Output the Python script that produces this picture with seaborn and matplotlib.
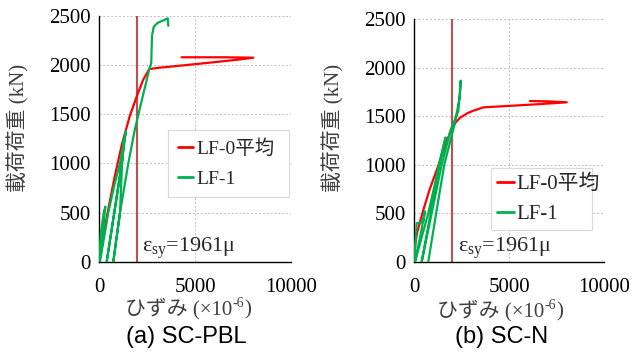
import numpy as np
import pandas as pd
import matplotlib
matplotlib.use("Agg")
import matplotlib.pyplot as plt
import seaborn as sns

# ---------------- data ----------------
a_red_strain = [0, 150, 450, 800, 1200, 1600, 2000, 2300, 2620, 3200, 4500, 6000, 7200, 8040, 6500, 4300]
a_red_load = [0, 180, 500, 850, 1200, 1480, 1700, 1850, 1961, 1975, 2000, 2030, 2055, 2076, 2080, 2080]

a_green_strain = [0, 100, 250, 330, 250, 52, 484, 800, 1094, 1400, 1189, 795, 400, 797, 1189, 1300,
                  1200, 1094, 745, 1094, 1526, 1850, 2200, 2450, 2620, 2720, 2760, 2850, 3050, 3350, 3580, 3610]
a_green_load = [0, 300, 500, 560, 400, 0, 500, 780, 1000, 1330, 1000, 500, 0, 500, 1000, 1250,
                1000, 500, 0, 500, 1000, 1330, 1620, 1820, 1961, 2020, 2300, 2390, 2430, 2455, 2476, 2400]

b_red_strain = [0, 50, 150, 474, 800, 1179, 1600, 1968, 2200, 2405, 2800, 3105, 3632, 5000, 6500, 8020, 7000, 6090]
b_red_load = [0, 180, 300, 532, 740, 944, 1180, 1374, 1440, 1483, 1530, 1555, 1590, 1605, 1622, 1642, 1652, 1655]

b_green_strain = [0, 60, 126, 474, 560, 300, 37, 737, 1316, 1650, 1300, 860, 389, 916, 1442, 1900,
                  2316, 2442, 2400, 2100, 1579, 1150, 737]
b_green_load = [0, 200, 395, 412, 520, 250, 0, 500, 1000, 1280, 1000, 500, 0, 500, 1000, 1350,
                1550, 1865, 1700, 1400, 1000, 500, 0]

series_names = ["LF-0平均", "LF-1"]
panel_titles = ["(a) SC-PBL", "(b) SC-N"]
eps_sy = 1961
x_ticks = [0, 5000, 10000]
y_ticks = [0, 500, 1000, 1500, 2000, 2500]

# ---------------- style ----------------
sns.set_style("white")
plt.rcParams["font.family"] = ["Liberation Serif", "Noto Sans CJK JP", "DejaVu Sans"]

palette = {series_names[0]: "#FF0000", series_names[1]: "#00B050"}
serif_cjk = ["Liberation Serif", "Noto Sans CJK JP", "DejaVu Sans"]
label_color = "#404040"

def frame(strain_a, load_a, strain_b, load_b):
    d1 = pd.DataFrame({"strain": strain_a, "load": load_a, "series": series_names[0]})
    d2 = pd.DataFrame({"strain": strain_b, "load": load_b, "series": series_names[1]})
    return pd.concat([d1, d2], ignore_index=True)

data = [frame(a_red_strain, a_red_load, a_green_strain, a_green_load),
        frame(b_red_strain, b_red_load, b_green_strain, b_green_load)]

fig = plt.figure(figsize=(6.35, 3.52), dpi=100)
W, H = 635, 352
renderer = fig.canvas.get_renderer()


def compose(cx, baseline, parts, color):
    """Draw text parts side by side, centred at cx (pixels)."""
    objs = []
    total = 0.0
    for s, size, dy in parts:
        t = fig.text(0, 0, s, fontsize=size, family=serif_cjk, color=color,
                     ha="left", va="baseline")
        w = t.get_window_extent(renderer).width
        objs.append((t, w, dy))
        total += w
    x = cx - total / 2
    for t, w, dy in objs:
        t.set_position((x / W, 1 - (baseline - dy) / H))
        x += w


axes_px = [(99, 16, 291, 261.7), (414.3, 19, 604.3, 261.7)]
legend_px = [(168, 130, 289, 202), (490.7, 168.3, 592.3, 230.7)]
legend_fs = [14, 15]
legend_pad = [0.5, 0.3]
legend_space = [0.6, 0.5]
xlabel_xy = [(188, 314), (500, 316)]
ylabel_xy = [(18, 128), (333, 128)]
title_xy = [(186, 337), (502, 337)]
eps_x = [142.3, 457.7]

for i in range(2):
    x0, y0, x1, y1 = axes_px[i]
    ax = fig.add_axes([x0 / W, 1 - y1 / H, (x1 - x0) / W, (y1 - y0) / H])
    ax.axvline(eps_sy, color="#C0504D", lw=1.5, zorder=1)
    sns.lineplot(data=data[i], x="strain", y="load", hue="series", palette=palette,
                 sort=False, estimator=None, lw=1.6, ax=ax, zorder=3)
    ax.set_xlim(0, 10000)
    ax.set_ylim(0, 2500)
    ax.set_xticks(x_ticks)
    ax.set_yticks(y_ticks)
    ax.grid(True, color="#BFBFBF", ls=(0, (2, 2)), lw=0.7)
    for s in ["top", "right"]:
        ax.spines[s].set_visible(False)
    for s in ["left", "bottom"]:
        ax.spines[s].set_color("black")
        ax.spines[s].set_linewidth(1.0)
    ax.tick_params(axis="both", length=0, labelsize=15, colors="black")
    ax.tick_params(axis="x", pad=12)
    ax.tick_params(axis="y", pad=6)
    for lab in ax.get_xticklabels() + ax.get_yticklabels():
        lab.set_family("Liberation Serif")
    ax.set_xlabel("")
    ax.set_ylabel("")

    # yield strain annotation
    ax.text((eps_x[i] - x0) / (x1 - x0), (y1 - 252.3) / (y1 - y0),
            r"$\mathregular{ε_{sy}}$=1961μ", transform=ax.transAxes,
            fontsize=16, family="Liberation Serif", va="baseline", ha="left", zorder=4)

    # legend
    lx0, ly0, lx1, ly1 = legend_px[i]
    handles, labels = ax.get_legend_handles_labels()
    leg = ax.legend(handles, labels, loc="upper left",
                    bbox_to_anchor=((lx0 - x0) / (x1 - x0), (y1 - ly0) / (y1 - y0),
                                    (lx1 - lx0) / (x1 - x0), 0.0),
                    mode="expand", frameon=True, fancybox=False, framealpha=1,
                    edgecolor="#D9D9D9", prop={"family": serif_cjk, "size": legend_fs[i]},
                    handlelength=0.8, handletextpad=0.15, labelspacing=legend_space[i],
                    borderpad=legend_pad[i], borderaxespad=0)
    leg.get_frame().set_linewidth(0.8)
    for lh in leg.get_lines():
        lh.set_linewidth(2)

    # axis labels
    fig.text(ylabel_xy[i][0] / W, 1 - ylabel_xy[i][1] / H, "載荷荷重 (kN)", rotation=90,
             fontsize=15, color=label_color, family=serif_cjk, ha="center", va="center")
    compose(xlabel_xy[i][0], xlabel_xy[i][1],
            [("ひずみ (×10", 15, 0), ("-6", 10, 7), (")", 15, 0)], label_color)
    fig.text(title_xy[i][0] / W, 1 - title_xy[i][1] / H, panel_titles[i],
             fontsize=17, color="black", family="Liberation Sans", ha="center", va="center")

fig.savefig("out.png", dpi=100)
